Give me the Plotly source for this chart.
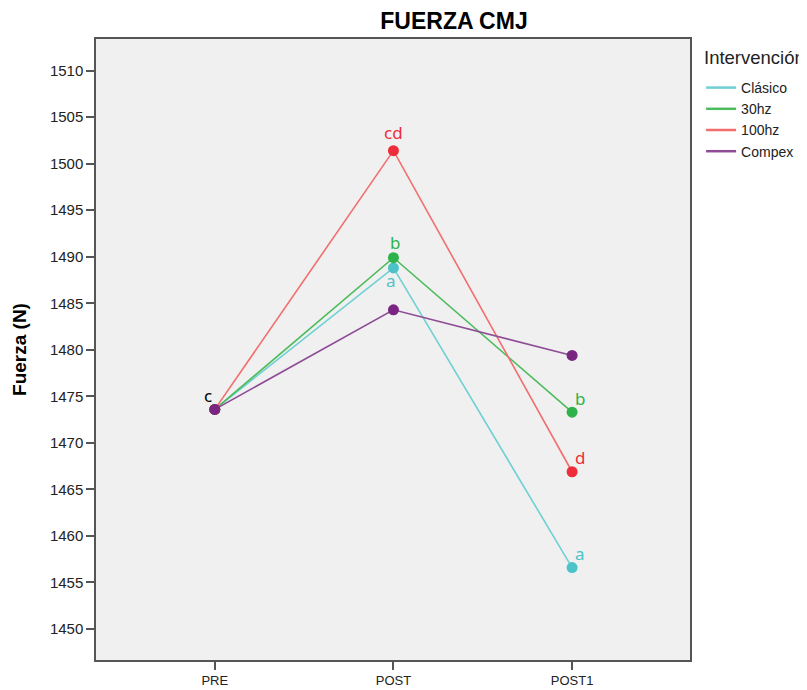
import plotly.graph_objects as go

categories = ["PRE", "POST", "POST1"]
series_names = ["Clásico", "30hz", "100hz", "Compex"]
clasico = [1473.6, 1488.8, 1456.6]
hz30 = [1473.6, 1489.9, 1473.3]
hz100 = [1473.6, 1501.4, 1466.9]
compex = [1473.6, 1484.3, 1479.4]
y_ticks = [1450, 1455, 1460, 1465, 1470, 1475, 1480, 1485, 1490, 1495, 1500, 1505, 1510]

values = [clasico, hz30, hz100, compex]
line_colors = ["#6FD0D4", "#4DBB5C", "#F26E6E", "#8E4C96"]
marker_colors = ["#4CC3C9", "#2DB34A", "#EE2D3A", "#7A2582"]

# significance letters: (series index, category index, text, dx, dy, colour)
letters = [
    (3, 0, "c", -7, -14, "#000000"),
    (2, 1, "cd", 0, -18, "#EE2D3A"),
    (1, 1, "b", 2, -15, "#2DB34A"),
    (0, 1, "a", -2, 13, "#4CC3C9"),
    (1, 2, "b", 8, -14, "#2DB34A"),
    (2, 2, "d", 8, -14, "#EE2D3A"),
    (0, 2, "a", 8, -14, "#4CC3C9"),
]

xidx = list(range(len(categories)))
fig = go.Figure()
for name, vals, lc, mc in zip(series_names, values, line_colors, marker_colors):
    fig.add_trace(go.Scatter(
        x=xidx, y=vals, name=name, mode="lines+markers", showlegend=False,
        line=dict(color=lc, width=1.6),
        marker=dict(color=mc, size=11),
    ))
for name, lc in zip(series_names, line_colors):
    fig.add_trace(go.Scatter(
        x=[None], y=[None], name=name, mode="lines",
        line=dict(color=lc, width=2.5),
    ))

for si, ci, txt, dx, dy, col in letters:
    fig.add_annotation(x=xidx[ci], y=values[si][ci], text=txt, showarrow=False,
                       xshift=dx, yshift=-dy, font=dict(family="Noto Sans, Arial", size=17, color=col))

W, H = 799, 682
L, R, T, B = 88, 117, 31, 30
PW, PH = W - L - R, H - T - B

# legend title
fig.add_annotation(text="Intervención", xref="paper", yref="paper",
                   x=(694 - L) / PW, y=1 - (49 - T) / PH, xanchor="left", yanchor="middle",
                   showarrow=False, font=dict(size=18.5, color="#222222"))

fig.update_layout(
    width=W, height=H,
    margin=dict(l=L, r=R, t=T, b=B, autoexpand=False),
    paper_bgcolor="white", plot_bgcolor="#F0F0F0",
    font=dict(family="Liberation Sans, Arial", size=13, color="#222222"),
    title=dict(text="<b>FUERZA CMJ</b>", x=446 / W, xref="container", xanchor="center",
               y=1 - 13 / H, yref="container", yanchor="middle",
               font=dict(size=23, color="#000000"), automargin=False),
    legend=dict(x=1.0187, xanchor="left", y=1 - (64 - T) / PH, yanchor="top",
                font=dict(size=14), bgcolor="rgba(0,0,0,0)",
                tracegroupgap=0, itemwidth=30),
    showlegend=True,
)
fig.update_xaxes(
    tickmode="array", tickvals=xidx, ticktext=categories,
    range=[-0.665, 2.66], showgrid=False, zeroline=False, automargin=False,
    showline=True, linecolor="#555555", linewidth=1.5, mirror=True,
    ticks="outside", ticklen=8, tickcolor="#555555", tickwidth=1.5,
    tickfont=dict(size=13),
)
fig.update_yaxes(
    tickmode="array", tickvals=y_ticks, automargin=False,
    range=[1446.67, 1513.4], showgrid=False, zeroline=False,
    showline=True, linecolor="#555555", linewidth=1.5, mirror=True,
    ticks="outside", ticklen=8, tickcolor="#555555", tickwidth=1.5,
    tickfont=dict(size=15),
    title=dict(text="<b>Fuerza (N)</b>", font=dict(size=19, color="#000000"), standoff=18),
)
fig.write_html("out.html")
